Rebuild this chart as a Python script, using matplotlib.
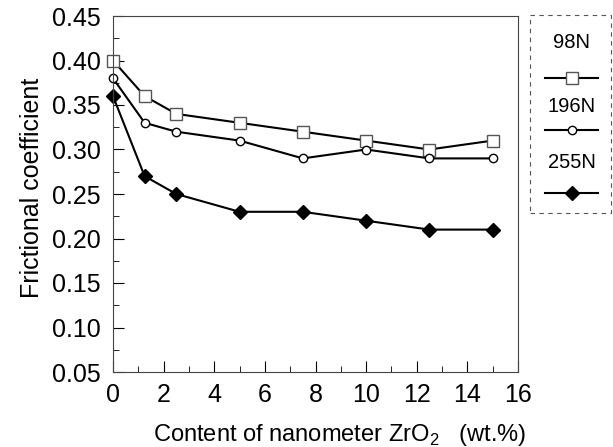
import matplotlib
matplotlib.use("Agg")
import matplotlib.pyplot as plt
from matplotlib.lines import Line2D
from matplotlib.patches import Rectangle
from matplotlib.ticker import MultipleLocator

plt.rcParams['font.family'] = ['Liberation Sans', 'DejaVu Sans']
plt.rcParams['mathtext.fontset'] = 'custom'
plt.rcParams['mathtext.rm'] = 'Liberation Sans'

content = [0, 1.25, 2.5, 5, 7.5, 10, 12.5, 15]
f98 = [0.40, 0.36, 0.34, 0.33, 0.32, 0.31, 0.30, 0.31]
f196 = [0.38, 0.33, 0.32, 0.31, 0.29, 0.30, 0.29, 0.29]
f255 = [0.36, 0.27, 0.25, 0.23, 0.23, 0.22, 0.21, 0.21]
labels = ['98N', '196N', '255N']

W, H = 613, 447
fig = plt.figure(figsize=(W/100, H/100), dpi=100)
ax = fig.add_axes([113/W, 1-372/H, (518-113)/W, (372-16)/H])

styles = [dict(marker='s', ms=9, mfc='white', mec='#555555', mew=1.0),
          dict(marker='o', ms=6, mfc='white', mec='black', mew=1.0),
          dict(marker='D', ms=7.5, mfc='black', mec='black', mew=1.0)]
for ys, st in zip([f98, f196, f255], styles):
    ax.plot(content, ys, color='black', lw=1.5, clip_on=False, **st)

ax.set_xlim(0, 16)
ax.set_ylim(0.05, 0.45)
ax.xaxis.set_major_locator(MultipleLocator(2))
ax.xaxis.set_minor_locator(MultipleLocator(1))
ax.yaxis.set_major_locator(MultipleLocator(0.05))
ax.yaxis.set_minor_locator(MultipleLocator(0.025))
ax.set_yticks(ax.get_yticks())
ax.set_yticklabels([f'{v:.2f}' for v in ax.get_yticks()])
ax.set_ylim(0.05, 0.45)
ax.tick_params(which='both', direction='in', top=False, right=False, labelsize=18, colors='black')
ax.tick_params(axis='y', which='major', pad=9)
ax.tick_params(axis='x', which='major', pad=8)
ax.tick_params(which='major', length=8, width=0.8)
ax.tick_params(which='minor', length=4, width=0.6)
for s in ax.spines.values():
    s.set_linewidth(0.8)
    s.set_color('#444444')

fig.text(32/W, 1-188/H, 'Frictional coefficient', fontsize=18, rotation=90,
         ha='center', va='center')
fig.text(340/W, 1-435/H, 'Content of nanometer ZrO$_{2}$   (wt.%)', fontsize=17,
         ha='center', va='center')

# legend box
fig.patches.append(Rectangle((530/W, 1-213/H), (611-530)/W, (213-15)/H,
                             transform=fig.transFigure, fill=False, ls=(0, (4, 4)),
                             lw=0.8, ec='#555555'))
for lab, st, ty, ly in zip(labels, styles, [42, 107, 163], [78, 130, 193]):
    fig.text(572/W, 1-ty/H, lab, fontsize=14.5, ha='center', va='center')
    fig.lines.append(Line2D([545/W, 572/W, 598/W], [1-ly/H]*3, transform=fig.transFigure,
                            color='black', lw=1.5, markevery=[1], **st))

fig.savefig('out.png', dpi=100)
